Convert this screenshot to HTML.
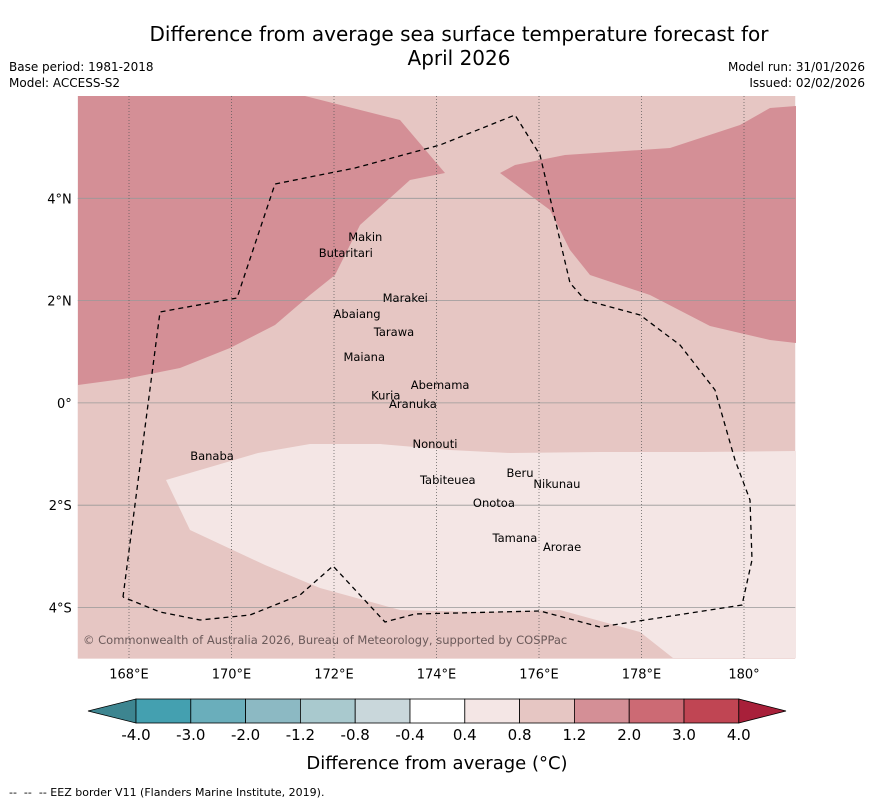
<!DOCTYPE html>
<html><head><meta charset="utf-8">
<style>
body{margin:0;background:#fff;font-family:"Liberation Sans","DejaVu Sans",sans-serif;}
.t{position:absolute;}
</style></head>
<body>
<div style="position:relative;width:873px;height:804px;overflow:hidden">
<div class="t" style="left:0;width:918px;top:22px;text-align:center;font-size:20px;line-height:24px;font-family:'DejaVu Sans',sans-serif">Difference from average sea surface temperature forecast for<br>April 2026</div>
<div class="t" style="left:9px;top:59px;font-size:12px;line-height:16px;font-family:'DejaVu Sans',sans-serif">Base period: 1981-2018<br>Model: ACCESS-S2</div>
<div class="t" style="right:8px;top:59px;font-size:12px;line-height:16px;text-align:right;font-family:'DejaVu Sans',sans-serif">Model run: 31/01/2026<br>Issued: 02/02/2026</div>
<svg id="svg" width="873" height="804" style="position:absolute;left:0;top:0" font-family="DejaVu Sans, sans-serif"></svg>
<div class="t" style="left:9px;top:786px;font-size:11px;font-family:'DejaVu Sans',sans-serif">--&nbsp; --&nbsp; -- EEZ border V11 (Flanders Marine Institute, 2019).</div>
</div>
<script>
const lonTicks=[168,170,172,174,176,178,180];
const lonLabels=["168°E","170°E","172°E","174°E","176°E","178°E","180°"];
const latTicks=[4,2,0,-2,-4];
const latLabels=["4°N","2°N","0°","2°S","4°S"];
const cbLevels=["-4.0","-3.0","-2.0","-1.2","-0.8","-0.4","0.4","0.8","1.2","2.0","3.0","4.0"];
const cbColors=["#3d8590","#44a0b0","#6aaebb","#8cb9c3","#a9c9ce","#c9d7db","#ffffff","#f4e6e5","#e6c6c3","#d48f96","#cc6a74","#c04553","#a8203a"];
const islandNames=["Makin","Butaritari","Marakei","Abaiang","Tarawa","Maiana","Abemama","Kuria","Aranuka","Nonouti","Banaba","Tabiteuea","Beru","Nikunau","Onotoa","Tamana","Arorae"];
const islandLon=[172.61,172.23,173.39,172.45,173.17,172.59,174.07,173.01,173.54,173.97,169.62,174.22,175.63,176.35,175.12,175.53,176.45];
const islandLat=[3.24,2.93,2.05,1.74,1.39,0.90,0.35,0.14,-0.02,-0.80,-1.04,-1.51,-1.37,-1.59,-1.96,-2.64,-2.82];
const L=77.75,T=96,PX=51.25;
const x=lon=>L+(lon-167)*PX, y=lat=>T+(6-lat)*51.15;
const svg=document.getElementById('svg');const NS='http://www.w3.org/2000/svg';
function mk(tag,a,name,txt){const e=document.createElementNS(NS,tag);for(const k in a)e.setAttribute(k,a[k]);


if(txt!==undefined)e.textContent=txt;svg.appendChild(e);return e;}
const X0=x(167),X1=x(181),Y0=y(6),Y1=y(-5);
mk('rect',{x:X0,y:Y0,width:X1-X0,height:Y1-Y0,fill:'#e6c6c3'},'map-background');
mk('polygon',{points:"78,96 305,96 400,120 445,173 410,180 360,225 335,275 310,295 275,325 230,348 180,368 130,378 78,385",fill:'#d48f96'},'warm-region-west');
mk('polygon',{points:"500,173 515,165 565,155 670,148 740,125 770,108 796,106 796,343 770,340 710,326 650,295 590,275 570,250 550,210",fill:'#d48f96'},'warm-region-east');
mk('polygon',{points:"166,480 258,453 310,444 380,444 450,450 510,453 600,452 700,452 796,451 796,658 673,658 640,632 560,610 480,612 400,610 320,588 265,565 190,530",fill:'#f4e6e5'},'mild-region-south');
latTicks.forEach((v,i)=>{mk('line',{x1:X0,x2:X1,y1:y(v),y2:y(v),stroke:'#999',"stroke-width":0.8},'lat-gridline');
mk('text',{x:X0-6,y:y(v)+5,"text-anchor":'end',"font-size":13},'lat-label',latLabels[i]);});
lonTicks.forEach((v,i)=>{mk('line',{x1:x(v),x2:x(v),y1:Y0,y2:Y1,stroke:'#555',"stroke-width":0.7,"stroke-dasharray":'1,2'},'lon-gridline');
mk('text',{x:x(v),y:Y1+20,"text-anchor":'middle',"font-size":13},'lon-label',lonLabels[i]);});
mk('polyline',{points:"123,597 160,312 237,298 275,184 355,168 440,145 515,115 540,155 570,283 585,300 640,315 680,345 715,390 735,460 750,500 752,560 742,605 600,627 540,611 415,614 385,622 333,566 300,595 250,615 200,620 160,612 123,597",fill:'none',stroke:'#000',"stroke-width":1.3,"stroke-dasharray":'5,4'},'eez-border');
islandNames.forEach((n,i)=>{mk('text',{x:x(islandLon[i]),y:y(islandLat[i])+4,"text-anchor":'middle',"font-size":11.5},'island-label',n);});
mk('text',{x:83,y:644,"font-size":11.5,fill:'#6b5a5a'},'copyright','© Commonwealth of Australia 2026, Bureau of Meteorology, supported by COSPPac');
const cbX=136,cbW=54.8,cbY=699,cbH=24;
mk('polygon',{points:`88,711 ${cbX},${cbY} ${cbX},${cbY+cbH}`,fill:cbColors[0],stroke:'#000',"stroke-width":0.8},'colorbar-extend-low');
for(let i=0;i<11;i++){mk('rect',{x:cbX+i*cbW,y:cbY,width:cbW,height:cbH,fill:cbColors[i+1],stroke:'#000',"stroke-width":0.8},'colorbar-segment');}
const cbE=cbX+11*cbW;
mk('polygon',{points:`${cbE},${cbY} 786,711 ${cbE},${cbY+cbH}`,fill:cbColors[12],stroke:'#000',"stroke-width":0.8},'colorbar-extend-high');
cbLevels.forEach((v,i)=>mk('text',{x:cbX+i*cbW,y:740,"text-anchor":'middle',"font-size":15},'colorbar-tick',v));
mk('text',{x:437,y:769,"text-anchor":'middle',"font-size":18},'colorbar-title','Difference from average (°C)');
</script>
</body></html>
